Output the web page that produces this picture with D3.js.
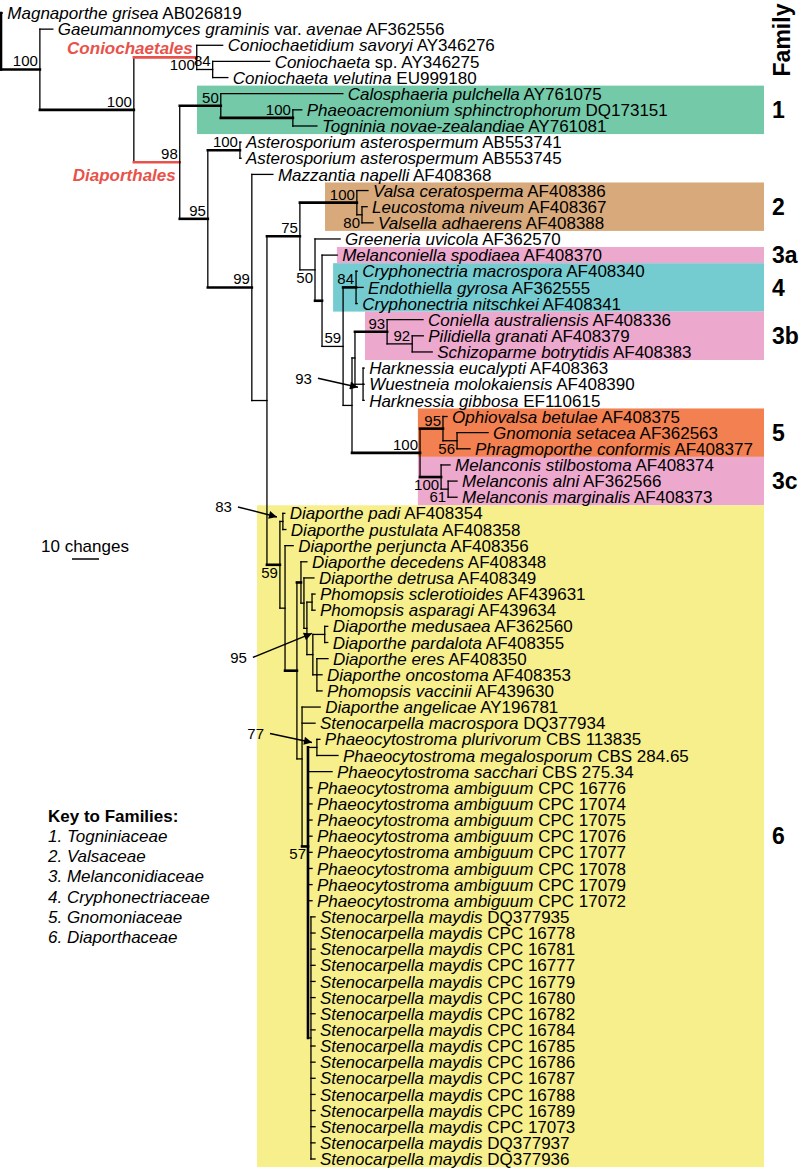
<!DOCTYPE html>
<html><head><meta charset="utf-8">
<script src="https://cdn.jsdelivr.net/npm/d3@7"></script>
<style>
body{margin:0;background:#fff}
svg{display:block}
text{font-family:"Liberation Sans",Arial,sans-serif;fill:#000}
</style>
</head><body>
<svg id="chart" width="800" height="1171"></svg>
<script>
// ---------- DATA ----------
const taxa = [
 ["t01","Magnaporthe grisea","AB026819"],
 ["t02","Gaeumannomyces graminis var. avenae","AF362556"],
 ["t03","Coniochaetidium savoryi","AY346276"],
 ["t04","Coniochaeta sp.","AY346275"],
 ["t05","Coniochaeta velutina","EU999180"],
 ["t06","Calosphaeria pulchella","AY761075"],
 ["t07","Phaeoacremonium sphinctrophorum","DQ173151"],
 ["t08","Togninia novae-zealandiae","AY761081"],
 ["t09","Asterosporium asterospermum","AB553741"],
 ["t10","Asterosporium asterospermum","AB553745"],
 ["t11","Mazzantia napelli","AF408368"],
 ["t12","Valsa ceratosperma","AF408386"],
 ["t13","Leucostoma niveum","AF408367"],
 ["t14","Valsella adhaerens","AF408388"],
 ["t15","Greeneria uvicola","AF362570"],
 ["t16","Melanconiella spodiaea","AF408370"],
 ["t17","Cryphonectria macrospora","AF408340"],
 ["t18","Endothiella gyrosa","AF362555"],
 ["t19","Cryphonectria nitschkei","AF408341"],
 ["t20","Coniella australiensis","AF408336"],
 ["t21","Pilidiella granati","AF408379"],
 ["t22","Schizoparme botrytidis","AF408383"],
 ["t23","Harknessia eucalypti","AF408363"],
 ["t24","Wuestneia molokaiensis","AF408390"],
 ["t25","Harknessia gibbosa","EF110615"],
 ["t26","Ophiovalsa betulae","AF408375"],
 ["t27","Gnomonia setacea","AF362563"],
 ["t28","Phragmoporthe conformis","AF408377"],
 ["t29","Melanconis stilbostoma","AF408374"],
 ["t30","Melanconis alni","AF362566"],
 ["t31","Melanconis marginalis","AF408373"],
 ["t32","Diaporthe padi","AF408354"],
 ["t33","Diaporthe pustulata","AF408358"],
 ["t34","Diaporthe perjuncta","AF408356"],
 ["t35","Diaporthe decedens","AF408348"],
 ["t36","Diaporthe detrusa","AF408349"],
 ["t37","Phomopsis sclerotioides","AF439631"],
 ["t38","Phomopsis asparagi","AF439634"],
 ["t39","Diaporthe medusaea","AF362560"],
 ["t40","Diaporthe pardalota","AF408355"],
 ["t41","Diaporthe eres","AF408350"],
 ["t42","Diaporthe oncostoma","AF408353"],
 ["t43","Phomopsis vaccinii","AF439630"],
 ["t44","Diaporthe angelicae","AY196781"],
 ["t45","Stenocarpella macrospora","DQ377934"],
 ["t46","Phaeocytostroma plurivorum","CBS 113835"],
 ["t47","Phaeocytostroma megalosporum","CBS 284.65"],
 ["t48","Phaeocytostroma sacchari","CBS 275.34"],
 ["t49","Phaeocytostroma ambiguum","CPC 16776"],
 ["t50","Phaeocytostroma ambiguum","CPC 17074"],
 ["t51","Phaeocytostroma ambiguum","CPC 17075"],
 ["t52","Phaeocytostroma ambiguum","CPC 17076"],
 ["t53","Phaeocytostroma ambiguum","CPC 17077"],
 ["t54","Phaeocytostroma ambiguum","CPC 17078"],
 ["t55","Phaeocytostroma ambiguum","CPC 17079"],
 ["t56","Phaeocytostroma ambiguum","CPC 17072"],
 ["t57","Stenocarpella maydis","DQ377935"],
 ["t58","Stenocarpella maydis","CPC 16778"],
 ["t59","Stenocarpella maydis","CPC 16781"],
 ["t60","Stenocarpella maydis","CPC 16777"],
 ["t61","Stenocarpella maydis","CPC 16779"],
 ["t62","Stenocarpella maydis","CPC 16780"],
 ["t63","Stenocarpella maydis","CPC 16782"],
 ["t64","Stenocarpella maydis","CPC 16784"],
 ["t65","Stenocarpella maydis","CPC 16785"],
 ["t66","Stenocarpella maydis","CPC 16786"],
 ["t67","Stenocarpella maydis","CPC 16787"],
 ["t68","Stenocarpella maydis","CPC 16788"],
 ["t69","Stenocarpella maydis","CPC 16789"],
 ["t70","Stenocarpella maydis","CPC 17073"],
 ["t71","Stenocarpella maydis","DQ377937"],
 ["t72","Stenocarpella maydis","DQ377936"]
];

// tree: [node id, parent id, branch length (changes), bootstrap support]
const treeNodes = [
 ["root","",0,""],
 ["t01","root",0.5,""],
 ["A","root",14.4,"100"],
 ["t02","A",4.8,""],
 ["B","A",34.8,"100"],
 ["C","B",23.3,"100"],
 ["t03","C",9.6,""],
 ["D","C",5.9,"84"],
 ["t04","D",21.1,""],
 ["t05","D",5.6,""],
 ["E","B",17.0,"98"],
 ["F","E",15.2,"50"],
 ["t06","F",45.2,""],
 ["H","F",26.7,"100"],
 ["t07","H",3.3,""],
 ["t08","H",8.9,""],
 ["G","E",10.4,"95"],
 ["I","G",11.9,"100"],
 ["t09","I",0.4,""],
 ["t10","I",0.4,""],
 ["J","G",16.3,"99"],
 ["t11","J",7.8,""],
 ["K","J",5.6,""],
 ["L","K",12.2,"75"],
 ["P","L",21.1,"100"],
 ["t12","P",4.1,""],
 ["P2","P",1.9,"80"],
 ["t13","P2",1.9,""],
 ["t14","P2",4.1,""],
 ["R","L",5.6,"50"],
 ["t15","R",9.3,""],
 ["U","R",2.6,""],
 ["t16","U",5.6,""],
 ["V","U",7.8,"59"],
 ["W","V",4.8,"84"],
 ["t17","W",0.4,""],
 ["t18","W",2.6,""],
 ["t19","W",0.4,""],
 ["X","V",3.3,""],
 ["Z","X",1.1,""],
 ["Q3b","Z",11.9,"93"],
 ["t20","Q3b",13.3,""],
 ["Q3b2","Q3b",9.3,"92"],
 ["t21","Q3b2",4.1,""],
 ["t22","Q3b2",7.4,""],
 ["Hk","Z",3.0,"93"],
 ["t23","Hk",0.4,""],
 ["t24","Hk",0.4,""],
 ["t25","Hk",0.4,""],
 ["S","X",25.2,"100"],
 ["N5","S",8.5,"95"],
 ["t26","N5",1.5,""],
 ["N5b","N5",5.2,"56"],
 ["t27","N5b",11.5,""],
 ["t28","N5b",4.8,""],
 ["N3c","S",7.8,"100"],
 ["t29","N3c",3.3,""],
 ["N3c2","N3c",2.6,"61"],
 ["t30","N3c2",3.3,""],
 ["t31","N3c2",3.3,""],
 ["M","K",4.8,"59"],
 ["D83","M",1.1,"83"],
 ["t32","D83",0.7,""],
 ["t33","D83",1.1,""],
 ["N","M",1.9,""],
 ["t34","N",3.0,""],
 ["N2","N",4.4,""],
 ["N3","N2",1.5,""],
 ["t35","N3",2.2,""],
 ["N3a","N3",1.1,""],
 ["t36","N3a",3.7,""],
 ["N3b","N3a",1.1,""],
 ["N3s","N3b",1.9,""],
 ["t37","N3s",1.1,""],
 ["t38","N3s",1.1,""],
 ["N95","N3b",2.2,""],
 ["N95a","N95",4.4,"95"],
 ["t39","N95a",1.1,""],
 ["t40","N95a",1.1,""],
 ["N95b","N95",1.5,""],
 ["t41","N95b",4.1,""],
 ["t42","N95b",1.9,""],
 ["t43","N95b",1.9,""],
 ["Nb","N2",1.9,""],
 ["t44","Nb",6.7,""],
 ["t45","Nb",4.8,""],
 ["N57","Nb",2.2,"57"],
 ["N77","N57",3.3,"77"],
 ["t46","N77",1.1,""],
 ["t47","N77",7.8,""],
 ["t48","N57",8.9,""],
 ["t49","N57",1.5,""],
 ["t50","N57",1.5,""],
 ["t51","N57",1.5,""],
 ["t52","N57",1.5,""],
 ["t53","N57",1.5,""],
 ["t54","N57",1.5,""],
 ["t55","N57",1.5,""],
 ["t56","N57",1.5,""],
 ["Ym","N57",1.1,""],
 ["t57","Ym",1.5,""],
 ["t58","Ym",1.5,""],
 ["t59","Ym",1.5,""],
 ["t60","Ym",1.5,""],
 ["t61","Ym",1.5,""],
 ["t62","Ym",1.5,""],
 ["t63","Ym",1.5,""],
 ["t64","Ym",1.5,""],
 ["t65","Ym",1.5,""],
 ["t66","Ym",1.5,""],
 ["t67","Ym",1.5,""],
 ["t68","Ym",1.5,""],
 ["t69","Ym",1.5,""],
 ["t70","Ym",1.5,""],
 ["t71","Ym",1.5,""],
 ["t72","Ym",1.5,""]
];

// orders highlighted in the figure
const orders = [
 ["Coniochaetales","C"],
 ["Diaporthales","E"]
];

// families: label, first leaf, last leaf, colour, left edge (changes from root)
const families = [
 ["1","t06","t08","#74c9a8",72.6],
 ["2","t12","t14","#d7a97b",120],
 ["3a","t16","t16","#eca8cd",124.4],
 ["4","t17","t19","#74ccd0",123],
 ["3b","t20","t22","#eca8cd",134.8],
 ["5","t26","t28","#f38050",154.4],
 ["3c","t29","t31","#eca8cd",154.4],
 ["6","t32","t72","#f6ef8b",94.8]
];
const familyKey = ["1. Togniniaceae","2. Valsaceae","3. Melanconidiaceae","4. Cryphonectriaceae","5. Gnomoniaceae","6. Diaporthaceae"];

const thickBranches = ["A","B","C","E","F","H","G","I","J","L","P","W","Q3b","S","N5","N3c","U","M","N2","N3","N57"];
const thickVerticals = ["root","N57"];
const belowSupport = ["C","R","P2","N5b","N3c","N3c2","M","N57"];
const arrowSupport = ["D83","Hk","N95a","N77"];
const scaleBarChanges = 10;

// ---------- LAYOUT ----------
const svg = d3.select("#chart");
const pxPerChange = 2.7;
const x = d3.scaleLinear().domain([0, 1]).range([1, 1 + pxPerChange]);
const y = d3.scaleLinear().domain([0, taxa.length - 1]).range([13, 1159]);
const boxRight = 764;
const thin = 1.3, thick = 2.6;
const red = "#e8524a";

const taxon = new Map(taxa.map(d => [d[0], d]));
const root = d3.stratify().id(d => d[0]).parentId(d => d[1] || null)(treeNodes);
root.eachBefore(n => { n.dist = n.parent ? n.parent.dist + n.data[2] : 0; });
root.leaves().forEach((l, i) => { l.yy = y(i); });
root.eachAfter(n => { if (n.children) n.yy = d3.mean(n.children, c => c.yy); });
const byId = new Map(root.descendants().map(n => [n.id, n]));

// family backgrounds
const step = y(1) - y(0);
svg.append("g").selectAll("rect").data(families).join("rect")
  .attr("x", d => x(d[4]))
  .attr("y", d => byId.get(d[1]).yy - step / 2)
  .attr("width", d => boxRight - x(d[4]))
  .attr("height", d => byId.get(d[2]).yy - byId.get(d[1]).yy + step)
  .attr("fill", d => d[3]);

// family labels
svg.append("g").selectAll("text").data(families).join("text")
  .attr("x", 772)
  .attr("y", d => (byId.get(d[1]).yy + byId.get(d[2]).yy) / 2)
  .attr("dy", "0.36em")
  .style("font-size", "23px").style("font-weight", "bold")
  .text(d => d[0]);
svg.append("text").attr("transform", "translate(790,40) rotate(-90)")
  .attr("text-anchor", "middle")
  .style("font-size", "23px").style("font-weight", "bold").text("Family");

// branches
const orderNodes = new Set(orders.map(d => d[1]));
const gB = svg.append("g").attr("stroke-linecap", "square");
root.descendants().forEach(n => {
  if (n.parent) {
    gB.append("line")
      .attr("x1", x(n.parent.dist)).attr("x2", x(n.dist))
      .attr("y1", n.yy).attr("y2", n.yy)
      .attr("stroke", orderNodes.has(n.id) ? red : "#000")
      .attr("stroke-width", thickBranches.includes(n.id) ? thick : thin);
  }
  if (n.children) {
    gB.append("line")
      .attr("x1", x(n.dist)).attr("x2", x(n.dist))
      .attr("y1", n.children[0].yy).attr("y2", n.children[n.children.length - 1].yy)
      .attr("stroke", "#000").attr("stroke-width", thickVerticals.includes(n.id) ? thick : thin);
  }
});

// leaf labels
const gL = svg.append("g").style("font-size", "17px");
root.leaves().forEach(l => {
  const t = taxon.get(l.id);
  const txt = gL.append("text").attr("x", x(l.dist) + 5).attr("y", l.yy).attr("dy", "0.36em");
  t[1].split(" ").forEach((w, i) => {
    const roman = (w === "var." || w === "sp.");
    txt.append("tspan").style("font-style", roman ? "normal" : "italic").text((i ? " " : "") + w);
  });
  txt.append("tspan").style("font-style", "normal").text(" " + t[2]);
});

// support values
const gS = svg.append("g").style("font-size", "15px").attr("text-anchor", "end");
root.descendants().filter(n => n.data[3] && !arrowSupport.includes(n.id)).forEach(n => {
  const below = belowSupport.includes(n.id);
  gS.append("text").attr("x", x(n.dist) - 2)
    .attr("y", below ? n.yy + 13 : n.yy - 3)
    .text(n.data[3]);
});

// arrow-pointed supports: tip offset from (parent x, node y), then arrow start offset from tip
const arrowLayout = {D83:[-3,-4.5,-39,-10], Hk:[3,3,-40,-9], N95a:[-1,-1,-59,24], N77:[4,-5,-42,-9]};
svg.append("defs").append("marker").attr("id", "ah").attr("viewBox", "0 0 10 10")
  .attr("refX", 10).attr("refY", 5).attr("markerWidth", 11).attr("markerHeight", 8)
  .attr("markerUnits", "userSpaceOnUse").attr("orient", "auto")
  .append("path").attr("d", "M0,0L10,5L0,10z").attr("fill", "#000");
arrowSupport.forEach(id => {
  const n = byId.get(id), o = arrowLayout[id];
  const tx = x(n.parent.dist) + o[0], ty = n.yy + o[1];
  const sx = tx + o[2], sy = ty + o[3];
  svg.append("text").attr("x", sx - 6).attr("y", sy).attr("dy", "0.36em")
    .attr("text-anchor", "end").style("font-size", "15px").text(n.data[3]);
  svg.append("line").attr("x1", sx).attr("y1", sy).attr("x2", tx).attr("y2", ty)
    .attr("stroke", "#000").attr("stroke-width", 1.5).attr("marker-end", "url(#ah)");
});

// order labels (red)
const orderLayout = {C:[-4,-10], E:[-4,13]};
orders.forEach(o => {
  const n = byId.get(o[1]);
  svg.append("text").attr("x", x(n.dist) + orderLayout[o[1]][0]).attr("y", n.yy + orderLayout[o[1]][1])
    .attr("dy", "0.36em").attr("text-anchor", "end")
    .style("font-size", "17px").style("font-weight", "bold").style("font-style", "italic")
    .style("fill", red).text(o[0]);
});

// scale bar
svg.append("line").attr("x1", x(0) + 71).attr("x2", x(scaleBarChanges) + 71)
  .attr("y1", 559).attr("y2", 559).attr("stroke", "#000").attr("stroke-width", 1.5);
svg.append("text").attr("x", 41).attr("y", 552).style("font-size", "17px").text(scaleBarChanges + " changes");

// key
const gK = svg.append("g").style("font-size", "17px");
gK.append("text").attr("x", 48).attr("y", 822).style("font-weight", "bold").text("Key to Families:");
gK.selectAll("text.k").data(familyKey).join("text").attr("class", "k")
  .attr("x", 48).attr("y", (d, i) => 842 + i * 20.2).style("font-style", "italic").text(d => d);
</script>
</body></html>
